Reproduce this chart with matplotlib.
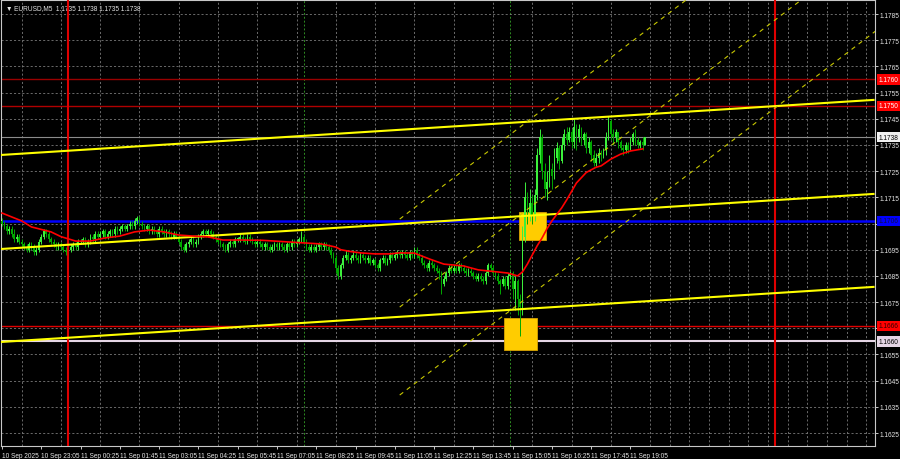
import matplotlib
matplotlib.use("Agg")
import matplotlib.pyplot as plt
import matplotlib.transforms as mtransforms
from matplotlib.patches import Rectangle
import numpy as np

plt.rcParams['font.family'] = ['Liberation Sans', 'DejaVu Sans']

BASE = 1.1600
PIP = 0.0001
FS = 4.7

# EURUSD M5, one value per bar from 10 Sep 21:45, in pips above 1.1600
first_open = 106
closes = [105, 104, 102, 103, 101, 99, 100, 98,
          97, 96, 95, 97, 96, 94, 95, 98,
          100, 102, 101, 99, 98, 97, 96, 97,
          96, 95, 94, 95, 96, 97, 96, 98,
          98, 99, 97, 98, 100, 99, 101, 100,
          101, 102, 100, 101, 102, 101, 103, 102,
          103, 104, 103, 104, 105, 104, 106, 107,
          105, 104, 103, 104, 102, 103, 102, 101,
          103, 102, 101, 102, 101, 100, 101, 100,
          98, 96, 95, 97, 98, 99, 97, 98,
          100, 101, 102, 101, 102, 101, 100, 99,
          98, 97, 96, 95, 97, 98, 97, 99,
          99, 100, 99, 98, 100, 99, 98, 97,
          98, 97, 96, 97, 96, 95, 96, 97,
          96, 97, 96, 95, 97, 96, 98, 97,
          98, 99, 100, 98, 96, 95, 96, 95,
          96, 97, 96, 97, 96, 95, 93, 92,
          88, 85, 89, 92, 93, 91, 92, 93,
          92, 91, 93, 92, 91, 92, 90, 91,
          89, 88, 91, 92, 90, 91, 93, 92,
          93, 94, 93, 94, 93, 92, 94, 93,
          95, 93, 92, 90, 89, 88, 90, 89,
          88, 87, 86, 82, 84, 86, 88, 87,
          88, 87, 89, 88, 87, 86, 87, 86,
          85, 84, 85, 84, 83, 86, 89, 88,
          86, 85, 83, 82, 84, 81, 85, 86,
          80, 83, 76, 73, 100, 115, 109, 113,
          108, 116, 131, 138, 125, 118, 121, 126,
          123, 130, 134, 129, 135, 139, 137, 140,
          136, 142, 138, 141, 137, 139, 134, 136,
          131, 128, 130, 132, 131, 133, 138, 144,
          139, 138, 140, 136, 134, 133, 135, 133,
          136, 139, 137, 135, 136, 135, 138]
highs = [107, 106, 105, 104, 104, 103, 101, 101,
         99, 98, 97, 98, 98, 97, 96, 99,
         101, 103, 103, 102, 100, 99, 98, 98,
         98, 97, 96, 96, 97, 98, 98, 99,
         99, 100, 100, 99, 101, 101, 102, 102,
         102, 103, 103, 102, 103, 103, 104, 104,
         104, 105, 105, 105, 106, 106, 107, 108,
         108, 106, 105, 105, 105, 104, 104, 103,
         104, 104, 103, 103, 103, 102, 102, 102,
         101, 99, 97, 98, 99, 100, 100, 99,
         101, 102, 103, 103, 103, 103, 102, 101,
         100, 99, 98, 97, 98, 99, 99, 100,
         100, 101, 101, 100, 101, 101, 100, 99,
         99, 99, 98, 98, 98, 97, 97, 98,
         98, 98, 98, 97, 98, 98, 99, 99,
         99, 100, 102, 101, 99, 97, 97, 97,
         97, 98, 98, 98, 98, 97, 96, 94,
         93, 89, 90, 93, 95, 94, 93, 95,
         94, 93, 94, 94, 93, 93, 93, 92,
         92, 90, 92, 93, 93, 92, 94, 94,
         94, 95, 95, 95, 95, 94, 95, 95,
         96, 96, 94, 93, 91, 90, 91, 91,
         90, 89, 88, 87, 85, 87, 89, 89,
         89, 89, 90, 90, 89, 88, 88, 88,
         87, 86, 86, 86, 85, 87, 90, 90,
         89, 87, 86, 84, 85, 85, 86, 87,
         87, 85, 84, 78, 104, 121, 117, 118,
         116, 118, 134, 141, 139, 128, 125, 131,
         128, 134, 136, 135, 138, 141, 142, 142,
         141, 145, 143, 143, 142, 140, 140, 138,
         137, 133, 132, 134, 133, 134, 140, 146,
         145, 141, 141, 140, 137, 135, 136, 136,
         138, 140, 141, 138, 137, 138, 138]
lows = [104, 103, 101, 101, 100, 98, 98, 97,
        96, 95, 94, 94, 95, 93, 93, 94,
        97, 99, 100, 98, 97, 96, 95, 95,
        95, 94, 93, 93, 94, 95, 95, 95,
        97, 97, 96, 96, 97, 98, 98, 99,
        99, 100, 99, 99, 100, 100, 100, 101,
        101, 102, 102, 102, 103, 103, 103, 105,
        104, 103, 102, 102, 101, 101, 101, 100,
        100, 101, 100, 100, 100, 99, 99, 99,
        97, 95, 94, 94, 96, 97, 96, 96,
        97, 99, 100, 100, 100, 100, 99, 98,
        97, 96, 95, 94, 94, 96, 96, 96,
        98, 98, 98, 97, 97, 98, 97, 96,
        96, 96, 95, 95, 95, 94, 94, 95,
        95, 95, 95, 94, 94, 95, 95, 96,
        96, 97, 98, 97, 95, 94, 94, 94,
        94, 95, 95, 95, 95, 94, 92, 90,
        86, 84, 84, 88, 91, 90, 90, 91,
        91, 90, 90, 91, 90, 90, 89, 89,
        88, 87, 87, 90, 89, 89, 90, 91,
        91, 92, 92, 92, 92, 91, 91, 92,
        92, 92, 91, 89, 88, 87, 87, 88,
        87, 86, 84, 78, 81, 83, 85, 86,
        86, 86, 86, 87, 86, 85, 85, 85,
        84, 83, 83, 83, 82, 82, 85, 87,
        85, 84, 82, 78, 81, 80, 80, 84,
        76, 72, 70, 62, 70, 98, 105, 106,
        105, 106, 114, 128, 122, 115, 114, 119,
        118, 122, 128, 126, 128, 133, 135, 136,
        134, 134, 133, 136, 135, 135, 132, 132,
        129, 127, 127, 128, 129, 130, 131, 137,
        137, 135, 136, 134, 133, 131, 132, 132,
        133, 135, 135, 134, 134, 133, 135]

# red moving average, read at a few bars
ma_bars = [0, 4, 8, 12, 20, 24, 30, 36, 42, 48, 54, 60, 66, 72, 78, 84, 90, 98,
           106, 116, 130, 136, 138, 142, 146, 152, 158, 162, 168, 174, 180, 188,
           194, 202, 206, 210, 212, 214, 216, 218, 220, 222, 224, 226, 228, 230,
           234, 238, 242, 244, 248, 252, 256, 261]
ma_vals = [109, 107.5, 106, 103.7, 101.8, 100, 98.3, 98.3, 99.5, 100.2, 101.8,
           102.5, 101.8, 100.6, 100.2, 99.9, 98.7, 98.7, 98.6, 98, 97.2, 96,
           95, 94.3, 93.8, 93.4, 93.4, 93.8, 93.7, 91.5, 89.5, 88.8, 87.3,
           86.5, 86.1, 85, 86.5, 89.5, 93, 96.5, 99.5, 103, 106, 108.5, 111,
           114, 120.5, 124.5, 126.5, 127, 129.6, 131.5, 132.7, 133.5]

# levels
level_r1 = 1.1760
level_r2 = 1.1750
level_bid = 1.1738
level_blue = 1.1706
level_s1 = 1.1666
level_s2 = 1.1660
day_lines = [27, 315]          # 11 Sep 00:00, 12 Sep 00:00
session_lines = [123, 207]     # 08:00, 15:00

# linear regression channel (bar 0 and bar 355)
reg_x = [0, 355]
reg_top = [1.17312, 1.17522]
reg_mid = [1.16953, 1.17163]
reg_bot = [1.16598, 1.16808]

# steep std-dev channel
dev_x = [162, 356]
dev_mid = [1.16731, 1.18122]
dev_width = 0.00336

# highlighted zones (bar from, bar to, price low, price high)
zones = [(210.6, 221.6, 1.16987, 1.17094),
         (204.5, 218.0, 1.16567, 1.16689)]

time_bars = list(range(0, 257, 16))
time_labels = ["10 Sep 2025", "10 Sep 23:05", "11 Sep 00:25", "11 Sep 01:45",
               "11 Sep 03:05", "11 Sep 04:25", "11 Sep 05:45", "11 Sep 07:05",
               "11 Sep 08:25", "11 Sep 09:45", "11 Sep 11:05", "11 Sep 12:25",
               "11 Sep 13:45", "11 Sep 15:05", "11 Sep 16:25", "11 Sep 17:45",
               "11 Sep 19:05"]
price_ticks = [round(1.1625 + 0.001 * k, 4) for k in range(17)]
# scale labels hidden behind the blue and red level boxes
covered = {1.1705, 1.1665}

fig = plt.figure(figsize=(9, 4.6), dpi=100, facecolor="black")
ax = fig.add_axes([1 / 900, 1 - 447 / 460, 874 / 900, 446 / 460])
ax.set_facecolor("black")
ax.set_xlim(-0.4, 355.6)
ax.set_ylim(1.162005, 1.179035)

for sp in ax.spines.values():
    sp.set_color("#c8c8c8")
    sp.set_linewidth(0.8)

# grid
ax.set_xticks(range(0, 356, 8), minor=True)
ax.set_yticks(price_ticks)
ax.set_yticklabels(["" if p in covered else f"{p:.4f}" for p in price_ticks])
ax.yaxis.tick_right()
ax.grid(which="minor", axis="x", color="#7a7a7a", linestyle=(0, (2.5, 2.5)), linewidth=0.6)
ax.grid(which="major", axis="y", color="#7a7a7a", linestyle=(0, (2.5, 2.5)), linewidth=0.6)
ax.set_xticks(time_bars)
ax.set_xticklabels(time_labels, ha="left")
ax.tick_params(which="minor", length=0)
ax.tick_params(axis="both", which="major", colors="#e6e6e6", labelsize=FS,
               length=2, width=0.6, pad=1.5)
ax.tick_params(axis="x", which="major", pad=2.5)

# session / day lines
for b in session_lines:
    ax.axvline(b, color="#2e8b22", linestyle=(0, (2, 2)), linewidth=0.7, zorder=1)
for b in day_lines:
    ax.axvline(b, color="#e00000", linewidth=1.5, zorder=4)

# horizontal levels
ax.axhline(level_r1, color="#9a0000", linewidth=1.0, zorder=2)
ax.axhline(level_r2, color="#b00000", linewidth=1.0, zorder=2)
ax.axhline(level_bid, color="#8c8c8c", linewidth=0.8, zorder=2)
ax.axhline(level_blue, color="#0000ff", linewidth=1.8, zorder=2)
ax.axhline(level_s1, color="#e00000", linewidth=1.0, zorder=2)
ax.axhline(level_s2, color="#e6d6e6", linewidth=1.5, zorder=2)

# zones
for b0, b1, p0, p1 in zones:
    ax.add_patch(Rectangle((b0, p0), b1 - b0, p1 - p0, facecolor="#ffcc00",
                           edgecolor="#d9a400", linewidth=0.6, zorder=2.5))

# candles
opens = [first_open] + closes[:-1]
x = np.arange(len(closes))
o = BASE + np.array(opens) * PIP
c = BASE + np.array(closes) * PIP
h = BASE + np.array(highs) * PIP
l = BASE + np.array(lows) * PIP
up = c >= o
col = np.where(up, "#3cf03c", "#00a800")
ax.vlines(x, l, h, colors=col, linewidth=0.7, zorder=3)
body = np.where(np.abs(c - o) < 0.4 * PIP, 0.4 * PIP, c - o)
ax.bar(x, body, bottom=o, width=0.7, color=col, linewidth=0, zorder=3)

# regression channel
ax.plot(reg_x, reg_top, color="#ffff00", linewidth=1.5, zorder=4)
ax.plot(reg_x, reg_mid, color="#ffff00", linewidth=1.5, zorder=4)
ax.plot(reg_x, reg_bot, color="#ffff00", linewidth=1.5, zorder=4)
for off in (-dev_width, 0, dev_width):
    ax.plot(dev_x, [dev_mid[0] + off, dev_mid[1] + off], color="#c8c800",
            linewidth=0.8, linestyle=(0, (4, 4)), zorder=4)

# moving average
ax.plot(ma_bars, BASE + np.array(ma_vals) * PIP, color="#ff0000", linewidth=1.2, zorder=5)

# price boxes on the right scale
trans = mtransforms.blended_transform_factory(ax.transAxes, ax.transData)
boxes = [(level_r1, "#ff0000", "white"), (level_r2, "#ff0000", "white"),
         (level_bid, "#f0f0f0", "black"), (level_blue, "#0000ff", "#101040"),
         (level_s1, "#ff0000", "#300000"), (level_s2, "#e6d6e6", "black")]
for p, fc, tc in boxes:
    ax.text(1.004, p, f"{p:.4f}", transform=trans, ha="left", va="center",
            fontsize=FS, color=tc, clip_on=False, zorder=10,
            bbox=dict(boxstyle="square,pad=0.25", facecolor=fc, edgecolor="none"))

ax.text(0.006, 0.992, "\u25bc EURUSD,M5  1.1735 1.1738 1.1735 1.1738",
        transform=ax.transAxes, ha="left", va="top", fontsize=FS, color="#e6e6e6")

fig.savefig("out.png", dpi=100, facecolor="black")
